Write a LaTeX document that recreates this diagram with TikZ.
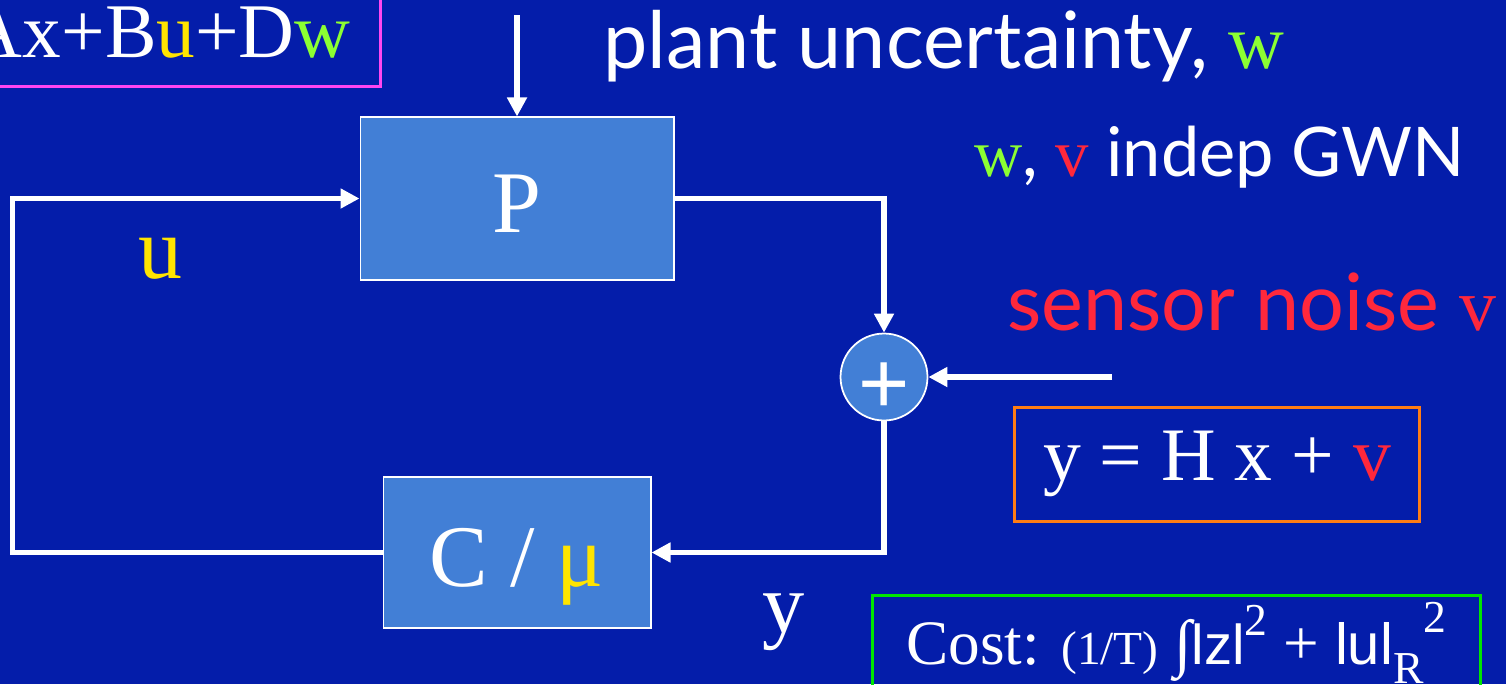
\documentclass[tikz,border=0pt]{standalone}
\usepackage{fontspec}
\setmainfont{Liberation Serif}
\setsansfont{Liberation Sans}
\newfontfamily\kezifont{Lato}
\usetikzlibrary{arrows.meta,positioning,calc}
\definecolor{hatter}{RGB}{4,29,170}
\definecolor{blokkszin}{RGB}{66,127,214}
\definecolor{sarga}{RGB}{255,228,0}
\definecolor{zold}{RGB}{140,255,50}
\definecolor{piros}{RGB}{255,40,60}
\definecolor{rozsaszin}{RGB}{255,70,240}
\definecolor{narancs}{RGB}{255,125,20}
\definecolor{zoldkeret}{RGB}{0,230,0}
\newcommand{\meret}[1]{\fontsize{#1}{#1}\selectfont}
\newcommand{\romai}[1]{\rmfamily\fontsize{#1}{#1}\selectfont}
\newcommand{\kezi}{\kezifont\fontsize{45}{45}\selectfont}
\tikzset{
  blokk/.style={draw=white,line width=0.6pt,fill=blokkszin,inner sep=0pt,font=\meret{50},
                text height=39pt,text depth=0pt},
  osszeg/.style={circle,draw=white,line width=1pt,fill=blokkszin,minimum size=17.4mm,inner sep=0pt,
                 font=\sffamily\meret{50}},
  keret/.style={draw=#1,line width=0.6mm},
  jelnyil/.style={-{Triangle[length=3.8mm,width=3.8mm]},draw=white,line width=3pt},
  felirat/.style={inner sep=0pt},
}

\begin{document}
\begin{tikzpicture}[x=0.02cm,y=-0.02cm,text=white]
  \useasboundingbox (0,0) rectangle (1506,684);
  \fill[hatter] (0,0) rectangle (1506,684);
  \clip (0,0) rectangle (1506,684);
  % blocks of the loop
  \node[blokk,minimum width=62.8mm,minimum height=32.6mm] (P) at (517,198.5) {P};
  \node[blokk,minimum width=53.6mm,minimum height=30.2mm,below=39.2mm of P] (C) {C / \textcolor{sarga}{μ}};
  \node[osszeg] (S) at (884,377) {\raisebox{-6pt}[0.6em][0pt]{+}};
  % boxes
  \node[keret=rozsaszin,font=\meret{44},anchor=south east,inner xsep=6mm,inner ysep=5.6mm] (allapot) at (382,88)
    {Ax+B\textcolor{sarga}{u}+D\textcolor{zold}{w}};
  \node[keret=narancs,font=\meret{43},minimum width=81.2mm,minimum height=22.8mm] (meres) at (1217,464)
    {y = H x + \textcolor{piros}{v}};
  \node[keret=zoldkeret,font=\meret{36},anchor=north west,minimum width=121.6mm,minimum height=19mm] (koltseg) at (871,594)
    {Cost: {\meret{27}(1/T)} ∫{\sffamily\meret{32}lzl}\raisebox{0.45em}{\meret{26}2} + {\sffamily\meret{33}lul}\raisebox{-0.3em}{\meret{26}R}\raisebox{0.5em}{\meret{26}2}};
  % labels
  \node[felirat,font=\kezi,anchor=base west] (bizonytalan) at (603,68)
    {plant uncertainty,\ {\romai{44}\textcolor{zold}{w}}};
  \node[felirat,font=\kezifont\meret{39},anchor=base east] (gwn) at (1465,176)
    {{\romai{38}\textcolor{zold}{w}}, {\romai{38}\textcolor{piros}{v}} indep GWN};
  \node[felirat,font=\kezi,text=piros,anchor=base east] (zajfelirat) at (1497,330)
    {sensor noise {\romai{42}v}};
  \node[felirat,font=\meret{50},anchor=base west] (ujel) at (138,278) {\textcolor{sarga}{u}};
  \node[felirat,font=\meret{48},anchor=base west] (yjel) at (762,632) {y};
  % signals
  \coordinate (felul) at (517,15);
  \coordinate (zajbe) at (1112,377);
  \draw[jelnyil] (felul) -- (P);
  \draw[jelnyil] (P.east) -| (S.north);
  \draw[jelnyil] (zajbe) -- (S);
  \draw[jelnyil] (S.south) |- (C.east);
  \draw[jelnyil] (C.west) -- ++(-370,0) |- (P.west);
\end{tikzpicture}
\end{document}
